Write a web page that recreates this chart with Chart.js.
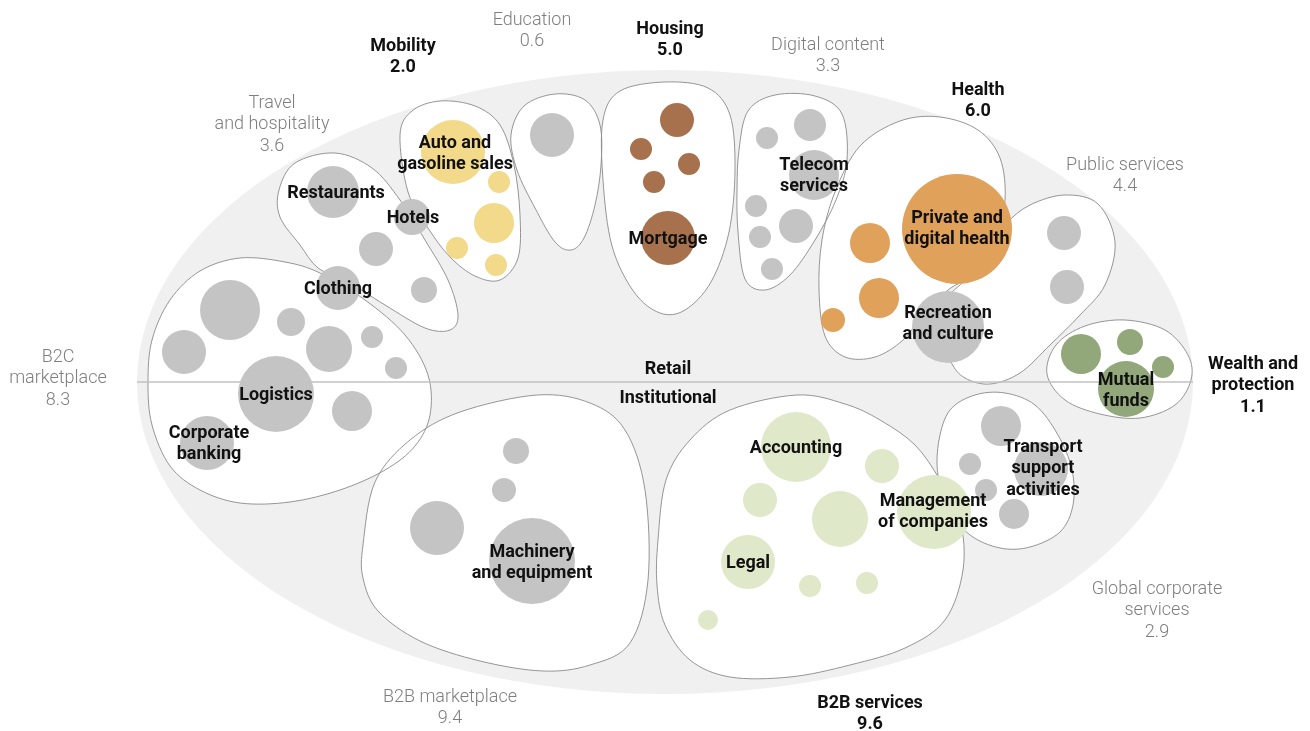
<!DOCTYPE html>
<html>
<head>
<meta charset="utf-8">
<script src="https://cdn.jsdelivr.net/npm/chart.js@4.4.1/dist/chart.umd.min.js"></script>
<style>
  html, body { margin: 0; padding: 0; background: #fff; }
  canvas { display: block; }
</style>
</head>
<body>
<canvas id="bubble_chart" width="1310" height="731"></canvas>
<script>
// Bubbles per group, [x, y, r]
const travelBubbles = [[333, 192, 26], [412, 217, 18], [376, 249, 17], [338, 288, 22], [424, 290, 13]];
const mobilityBubbles = [[453, 152, 32], [499, 182, 11], [494, 223, 20], [457, 248, 11], [496, 265, 11]];
const educationBubbles = [[552, 135, 22]];
const housingBubbles = [[677, 120, 17], [641, 149, 11], [689, 164, 11], [654, 182, 11], [668, 238, 27]];
const digitalBubbles = [[810, 125, 16], [767, 138, 11], [814, 175, 25], [756, 206, 11], [796, 226, 17], [760, 237, 11], [772, 269, 11]];
const healthBubbles = [[957, 229, 55], [870, 243, 20], [879, 298, 20], [833, 320, 12]];
const publicBubbles = [[1064, 233, 17], [1067, 287, 17], [948, 327, 36]];
const wealthBubbles = [[1081, 354, 20], [1130, 342, 13], [1163, 367, 11], [1126, 389, 28]];
const b2cBubbles = [[230, 310, 30], [184, 352, 22], [291, 322, 14], [329, 349, 23], [372, 337, 11], [396, 368, 11], [276, 394, 38], [352, 411, 20], [207, 443, 27]];
const b2bMarketBubbles = [[516, 451, 13], [504, 490, 12], [437, 528, 27], [532, 561, 43]];
const b2bServiceBubbles = [[796, 447, 35], [882, 466, 17], [760, 500, 17], [840, 519, 28], [934, 512, 37], [748, 562, 27], [810, 586, 11], [867, 583, 11], [708, 620, 10]];
const globalBubbles = [[1001, 426, 20], [970, 464, 11], [986, 490, 11], [1014, 514, 15], [1041, 469, 27]];

// Group outlines (closed smooth curves through these points)
const travelOutline = [[280, 217], [279, 190], [295, 163], [335, 153], [372, 168], [400, 200], [425, 240], [448, 280], [458, 315], [450, 330], [425, 328], [385, 305], [345, 280], [318, 268], [300, 245]];
const mobilityOutline = [[400, 135], [412, 111], [440, 101], [475, 106], [500, 125], [514, 165], [520, 215], [518, 258], [500, 280], [475, 276], [450, 257], [428, 228], [408, 192]];
const educationOutline = [[511, 135], [524, 106], [555, 94], [585, 100], [600, 125], [601, 165], [595, 205], [584, 238], [571, 250], [555, 242], [535, 208], [517, 170]];
const housingOutline = [[603, 120], [620, 91], [665, 82], [708, 88], [730, 115], [735, 170], [729, 232], [711, 282], [685, 310], [660, 313], [634, 292], [612, 246], [603, 180]];
const digitalOutline = [[739, 150], [748, 111], [775, 95], [815, 96], [842, 114], [847, 160], [836, 200], [815, 240], [790, 275], [765, 290], [745, 279], [738, 232], [737, 190]];
const healthOutline = [[819, 290], [822, 240], [835, 192], [860, 146], [900, 121], [940, 117], [978, 130], [1000, 158], [1005, 200], [995, 240], [975, 272], [948, 290], [925, 312], [903, 340], [875, 357], [845, 357], [825, 336]];
const publicOutline = [[951, 362], [940, 330], [946, 300], [966, 279], [990, 250], [1006, 224], [1030, 205], [1065, 195], [1098, 204], [1115, 242], [1105, 285], [1080, 315], [1050, 345], [1020, 373], [990, 384], [965, 378]];
const wealthOutline = [[1047, 374], [1056, 345], [1085, 326], [1125, 320], [1165, 330], [1188, 355], [1191, 380], [1175, 405], [1140, 418], [1100, 414], [1065, 400]];
const b2cOutline = [[148, 383], [152, 340], [170, 300], [200, 271], [240, 258], [285, 262], [320, 273], [365, 300], [405, 335], [428, 375], [430, 415], [415, 446], [385, 470], [340, 490], [290, 502], [240, 503], [200, 490], [170, 466], [152, 425]];
const b2bMarketOutline = [[363, 545], [375, 482], [410, 440], [460, 412], [537, 395], [590, 403], [625, 430], [645, 490], [648, 580], [630, 643], [590, 665], [543, 671], [480, 661], [420, 641], [378, 611], [363, 578]];
const b2bServiceOutline = [[658, 540], [666, 480], [690, 440], [730, 410], [797, 395], [845, 404], [880, 420], [915, 445], [940, 480], [960, 520], [963, 570], [945, 620], [905, 648], [850, 665], [790, 677], [730, 677], [690, 660], [665, 625], [657, 585]];
const globalOutline = [[939, 440], [950, 410], [975, 395], [1005, 393], [1035, 405], [1058, 435], [1072, 470], [1073, 505], [1060, 532], [1030, 547], [1000, 548], [970, 535], [950, 510], [938, 475]];

// Group titles: [lines, x, y of first line, bold]
const groupTitles = [
  [["Travel", "and hospitality", "3.6"], 272, 103, false],
  [["Mobility", "2.0"], 403, 46, true],
  [["Education", "0.6"], 532, 20, false],
  [["Housing", "5.0"], 670, 29, true],
  [["Digital content", "3.3"], 828, 45, false],
  [["Health", "6.0"], 978, 90, true],
  [["Public services", "4.4"], 1125, 165, false],
  [["B2C", "marketplace", "8.3"], 58, 357, false],
  [["Wealth and", "protection", "1.1"], 1253, 364, true],
  [["Global corporate", "services", "2.9"], 1157, 589, false],
  [["B2B marketplace", "9.4"], 450, 697, false],
  [["B2B services", "9.6"], 870, 703, true],
  [["Retail"], 668, 369, true],
  [["Institutional"], 668, 398, true]
];

// Bubble names: [lines, x, y of first line]
const bubbleNames = [
  [["Restaurants"], 336, 193],
  [["Hotels"], 413, 218],
  [["Clothing"], 338, 289],
  [["Auto and", "gasoline sales"], 455, 143],
  [["Mortgage"], 668, 239],
  [["Telecom", "services"], 814, 165],
  [["Private and", "digital health"], 957, 218],
  [["Recreation", "and culture"], 948, 313],
  [["Mutual", "funds"], 1126, 380],
  [["Logistics"], 276, 395],
  [["Corporate", "banking"], 209, 433],
  [["Machinery", "and equipment"], 532, 552],
  [["Accounting"], 796, 448],
  [["Management", "of companies"], 933, 501],
  [["Legal"], 748, 563],
  [["Transport", "support", "activities"], 1043, 447]
];

const GRAY = "#c4c4c4";
const groups = [
  { data: travelBubbles, color: GRAY, outline: travelOutline },
  { data: mobilityBubbles, color: "#f3d98a", outline: mobilityOutline },
  { data: educationBubbles, color: GRAY, outline: educationOutline },
  { data: housingBubbles, color: "#a8714d", outline: housingOutline },
  { data: digitalBubbles, color: GRAY, outline: digitalOutline },
  { data: healthBubbles, color: "#e0a15a", outline: healthOutline },
  { data: publicBubbles, color: GRAY, outline: publicOutline },
  { data: wealthBubbles, color: "#92a77a", outline: wealthOutline },
  { data: b2cBubbles, color: GRAY, outline: b2cOutline },
  { data: b2bMarketBubbles, color: GRAY, outline: b2bMarketOutline },
  { data: b2bServiceBubbles, color: "#dfe8c8", outline: b2bServiceOutline },
  { data: globalBubbles, color: GRAY, outline: globalOutline }
];

function smoothPath(ctx, pts) {
  const n = pts.length;
  ctx.beginPath();
  ctx.moveTo(pts[0][0], pts[0][1]);
  for (let i = 0; i < n; i++) {
    const p0 = pts[(i - 1 + n) % n], p1 = pts[i], p2 = pts[(i + 1) % n], p3 = pts[(i + 2) % n];
    ctx.bezierCurveTo(
      p1[0] + (p2[0] - p0[0]) / 6, p1[1] + (p2[1] - p0[1]) / 6,
      p2[0] - (p3[0] - p1[0]) / 6, p2[1] - (p3[1] - p1[1]) / 6,
      p2[0], p2[1]
    );
  }
  ctx.closePath();
}

const backdrop = {
  id: "backdrop",
  beforeDatasetsDraw(chart) {
    const ctx = chart.ctx, sx = chart.scales.x, sy = chart.scales.y;
    ctx.save();
    // big ellipse
    const cx = sx.getPixelForValue(665), cy = sy.getPixelForValue(382);
    const rx = sx.getPixelForValue(665 + 528) - cx, ry = sy.getPixelForValue(382 + 312) - cy;
    ctx.beginPath();
    ctx.ellipse(cx, cy, rx, Math.abs(ry), 0, 0, Math.PI * 2);
    ctx.fillStyle = "#f0f0f0";
    ctx.fill();
    // blobs: fill all first, then outline all
    const paths = groups.map(g => g.outline.map(p => [sx.getPixelForValue(p[0]), sy.getPixelForValue(p[1])]));
    paths.forEach(p => { smoothPath(ctx, p); ctx.fillStyle = "#fff"; ctx.fill(); });
    ctx.strokeStyle = "#8a8a8a";
    ctx.lineWidth = 0.9;
    paths.forEach(p => { smoothPath(ctx, p); ctx.stroke(); });
    // retail / institutional divider
    ctx.beginPath();
    ctx.moveTo(sx.getPixelForValue(137), sy.getPixelForValue(382));
    ctx.lineTo(sx.getPixelForValue(1193), sy.getPixelForValue(382));
    ctx.strokeStyle = "#c2c2c2";
    ctx.lineWidth = 1.5;
    ctx.stroke();
    ctx.restore();
  }
};

const labels = {
  id: "labels",
  afterDatasetsDraw(chart) {
    const ctx = chart.ctx, sx = chart.scales.x, sy = chart.scales.y;
    ctx.save();
    ctx.textAlign = "center";
    ctx.textBaseline = "middle";
    groupTitles.forEach(([lines, x, y, bold]) => {
      ctx.font = bold ? "bold 18px Roboto, 'Liberation Sans', sans-serif" : "300 18px Roboto, 'Liberation Sans', sans-serif";
      ctx.fillStyle = bold ? "#111" : "#7e7e7e";
      lines.forEach((t, i) => ctx.fillText(t, sx.getPixelForValue(x), sy.getPixelForValue(y + i * 21.5)));
    });
    ctx.font = "bold 18px Roboto, 'Liberation Sans', sans-serif";
    ctx.fillStyle = "#111";
    bubbleNames.forEach(([lines, x, y]) => {
      lines.forEach((t, i) => ctx.fillText(t, sx.getPixelForValue(x), sy.getPixelForValue(y + i * 21.5)));
    });
    ctx.restore();
  }
};

new Chart(document.getElementById("bubble_chart"), {
  type: "bubble",
  data: {
    datasets: groups.map(g => ({
      data: g.data.map(b => ({ x: b[0], y: b[1], r: b[2] })),
      backgroundColor: g.color,
      borderWidth: 0,
      hoverBorderWidth: 0,
      clip: false
    }))
  },
  options: {
    responsive: false,
    animation: false,
    devicePixelRatio: 1,
    layout: { padding: 0, autoPadding: false },
    events: [],
    plugins: { legend: { display: false }, tooltip: { enabled: false } },
    scales: {
      x: { type: "linear", min: 0, max: 1310, display: false },
      y: { type: "linear", min: 0, max: 731, reverse: true, display: false }
    }
  },
  plugins: [backdrop, labels]
});
</script>
</body>
</html>
